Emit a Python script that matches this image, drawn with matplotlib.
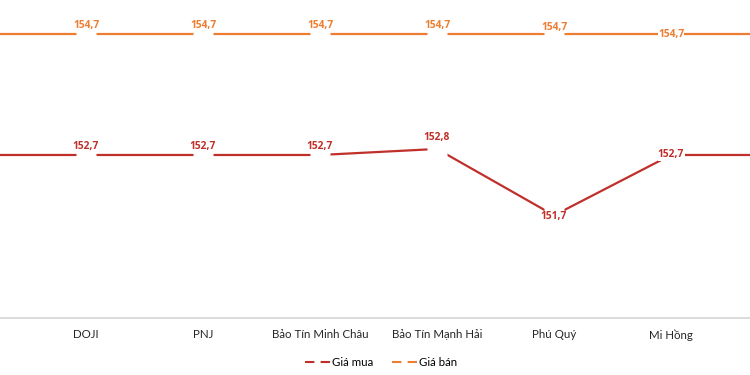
import matplotlib
matplotlib.use("Agg")
import matplotlib.pyplot as plt
from matplotlib.lines import Line2D

plt.rcParams['font.family'] = ['Lato', 'DejaVu Sans']

# hai hang muc dau/cuoi nam ngoai khung hinh (duong ke keo dai ra mep)
categories = ["", "DOJI", "PNJ", "Bảo Tín Minh Châu", "Bảo Tín Mạnh Hải", "Phú Quý", "Mi Hồng", ""]
gia_mua = [152.7, 152.7, 152.7, 152.7, 152.8, 151.7, 152.7, 152.7]
gia_ban = [154.7, 154.7, 154.7, 154.7, 154.7, 154.7, 154.7, 154.7]
series_names = ["Giá mua", "Giá bán"]

RED = "#C0302B"
ORANGE = "#ED7D31"

# do lech nhan du lieu (points), theo tung hang muc hien thi
mua_offsets = [6, 6, 6, 8, -1, 0]
ban_offsets = [6.5, 6.5, 6.5, 6.5, 5, 0]


def fmt(v):
    return f"{v:.1f}".replace(".", ",")


def main():
    fig = plt.figure(figsize=(7.5, 3.75), dpi=100)
    ax = fig.add_axes([0, 0.152, 1, 0.805])

    xs = [i - 1 for i in range(len(categories))]
    ax.plot(xs, gia_mua, color=RED, lw=1.6, zorder=2, solid_capstyle="butt")
    ax.plot(xs, gia_ban, color=ORANGE, lw=1.6, zorder=2, solid_capstyle="butt")

    vis = [i for i, c in enumerate(categories) if c]
    for values, color, offs in [(gia_mua, RED, mua_offsets), (gia_ban, ORANGE, ban_offsets)]:
        ax.plot([xs[i] for i in vis], [values[i] for i in vis], "s", ms=15,
                mfc="white", mec="none", zorder=3)
        for k, i in enumerate(vis):
            ax.annotate(fmt(values[i]), (xs[i], values[i]), xytext=(0, offs[k]),
                        textcoords="offset points", ha="center", va="center",
                        family=["Open Sans", "DejaVu Sans"],
                        fontsize=7.4, fontweight="bold", color=color, zorder=4,
                        bbox=dict(fc="white", ec="none", pad=0.2))

    ax.set_xlim(-0.735, 5.675)
    ax.set_ylim(150, 155)
    ax.set_xticks([xs[i] for i in vis])
    ax.set_xticklabels([categories[i] for i in vis], fontsize=8.3, color="#262626")
    ax.tick_params(axis="x", length=0, pad=8)
    ax.set_yticks([])
    for s in ["left", "right", "top"]:
        ax.spines[s].set_visible(False)
    ax.spines["bottom"].set_color("#d9d9d9")
    ax.spines["bottom"].set_linewidth(1.3)

    handles = [Line2D([], [], color=RED, lw=1.5, linestyle=(0, (4.5, 3))),
               Line2D([], [], color=ORANGE, lw=1.5, linestyle=(0, (4.5, 3)))]
    fig.legend(handles, series_names, loc="center", bbox_to_anchor=(0.508, 0.032),
               ncol=2, frameon=False, fontsize=8.3, handlelength=2.17,
               handletextpad=0.15, columnspacing=1.6)

    fig.savefig("out.png", dpi=100)


if __name__ == "__main__":
    main()
